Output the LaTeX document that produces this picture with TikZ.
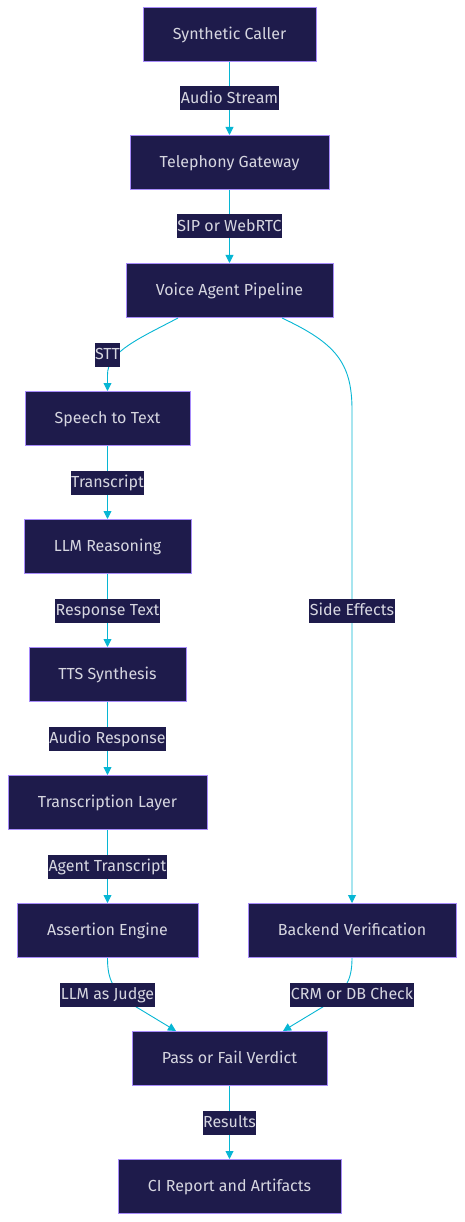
\documentclass[tikz,border=0pt]{standalone}
\usepackage{fontspec}
\setmainfont{Fira Sans}
\usetikzlibrary{arrows.meta,calc}
\definecolor{navy}{HTML}{1E1B4B}
\definecolor{lav}{HTML}{A78BFA}
\definecolor{txt}{HTML}{D6D6E0}
\definecolor{cy}{HTML}{06B6D4}
\begin{document}
\begin{tikzpicture}[x=1pt,y=-1pt,
  box/.style={draw=lav, fill=navy, line width=1pt, text=txt, font=\fontsize{16}{19}\selectfont, text height=12, text depth=2, minimum height=54, inner sep=0, anchor=center},
  lbl/.style={fill=navy, text=txt, font=\fontsize{16}{19}\selectfont, text height=12, text depth=2, inner xsep=0.5, inner ysep=0, minimum height=24, anchor=center},
  conn/.style={draw=cy, line width=0.9pt, -{Triangle[length=8pt,width=8pt]}}
]
\fill[white] (0,0) rectangle (464,1222);
\useasboundingbox (0,0) rectangle (464,1222);

\node[box, minimum width=173] (sc) at (229.5,35) {Synthetic Caller};
\node[box, minimum width=199] (tg) at (229.5,162.5) {Telephony Gateway};
\node[box, minimum width=207] (vap) at (229.5,290.5) {Voice Agent Pipeline};
\node[box, minimum width=165] (stt) at (107.5,418.5) {Speech to Text};
\node[box, minimum width=167] (llm) at (107.5,546.5) {LLM Reasoning};
\node[box, minimum width=157] (tts) at (107.5,674.5) {TTS Synthesis};
\node[box, minimum width=199] (tl) at (107.5,802.5) {Transcription Layer};
\node[box, minimum width=181] (ae) at (107.5,930.5) {Assertion Engine};
\node[box, minimum width=208] (bv) at (352,930.5) {Backend Verification};
\node[box, minimum width=195] (pf) at (229.5,1058.5) {Pass or Fail Verdict};
\node[box, minimum width=223] (ci) at (229.5,1186.5) {CI Report and Artifacts};

\draw[conn] (sc) -- (tg);
\draw[conn] (tg) -- (vap);
\draw[conn] ($(vap.south)+(-51.5,0)$) .. controls (140,338) and (107,352) .. (107.5,375) -- (stt.north);
\draw[conn] ($(vap.south)+(52.5,0)$) .. controls (335,343) and (352,362) .. (352,410) -- (bv.north);
\draw[conn] (stt) -- (llm);
\draw[conn] (llm) -- (tts);
\draw[conn] (tts) -- (tl);
\draw[conn] (tl) -- (ae);
\draw[conn] (ae.south) .. controls (107.5,980) and (113,990) .. (133,1005) -- ($(pf.north)+(-53.5,0)$);
\draw[conn] (bv.south) .. controls (352,980) and (346,990) .. (326,1005) -- ($(pf.north)+(53.5,0)$);
\draw[conn] (pf) -- (ci);

\node[lbl] (l1) at (229.5,98.5) {Audio Stream};
\node[lbl] (l2) at (229.5,226.5) {SIP or WebRTC};
\node[lbl] (l3) at (107.5,354.5) {STT};
\node[lbl] (l4) at (107.5,482.5) {Transcript};
\node[lbl] (l5) at (107.5,610.5) {Response Text};
\node[lbl] (l6) at (107.5,738.5) {Audio Response};
\node[lbl] (l7) at (107.5,866.5) {Agent Transcript};
\node[lbl] (l8) at (352,610.5) {Side Effects};
\node[lbl] (l9) at (107.5,994.5) {LLM as Judge};
\node[lbl] (l10) at (352,994.5) {CRM or DB Check};
\node[lbl] (l11) at (229.5,1122.5) {Results};
\end{tikzpicture}
\end{document}
